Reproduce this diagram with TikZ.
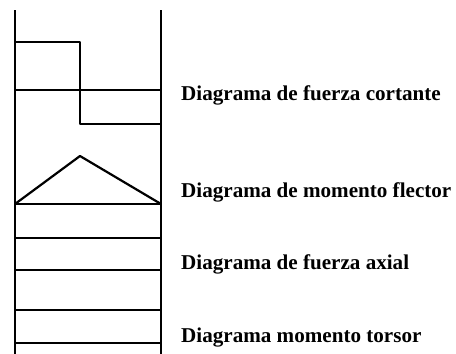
\documentclass[tikz,border=0pt]{standalone}
\usepackage{fontspec}
\setmainfont{Liberation Serif}
\usepackage{tikz}

\begin{document}
\begin{tikzpicture}[x=1pt, y=-1pt, thin line/.style={line width=1.1pt}, diag/.style={line width=2.2pt, line join=round}, axis/.style={line width=1.5pt}, every node/.style={anchor=base west, inner sep=0pt, font=\bfseries\fontsize{21.1}{25}\selectfont}]
  \useasboundingbox (0,0) rectangle (456,354);
  % supports of the beam
  \coordinate (lt) at (15,10);
  \coordinate (lb) at (15,354);
  \coordinate (rt) at (161,10);
  \coordinate (rb) at (161,354);
  \draw[thin line] (lt) -- (lb);
  \draw[thin line] (rt) -- (rb);
  % shear
  \draw[axis] (15,90) -- (161,90);
  \draw[diag] (15,42) -- (80,42) -- (80,124) -- (161,124);
  % bending moment
  \draw[axis] (15,204) -- (161,204);
  \draw[diag] (15,204) -- (80,156) -- (161,204);
  % axial and torsion
  \draw[diag] (15,238) rectangle (161,270);
  \draw[diag] (15,310) rectangle (161,343);
  \node (cortante) at (181,100) {Diagrama de fuerza cortante};
  \node (flector) at (181,197) {Diagrama de momento flector};
  \node (axial) at (181,269) {Diagrama de fuerza axial};
  \node (torsor) at (181,342) {Diagrama momento torsor};
\end{tikzpicture}
\end{document}
